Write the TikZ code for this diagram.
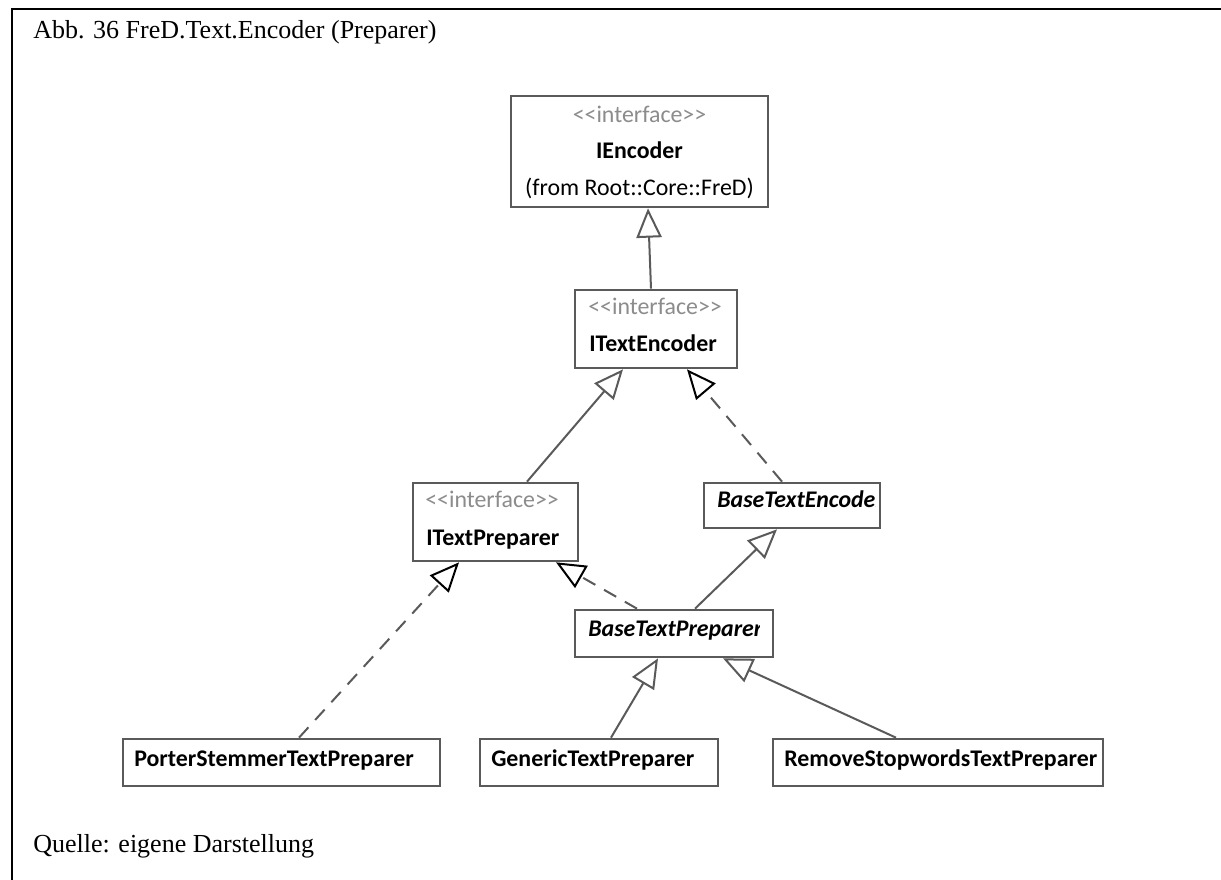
\documentclass[tikz,border=0pt]{standalone}
\usepackage{fontspec}
\setmainfont{Liberation Serif}
\newfontfamily\umlfont{Carlito}
\usetikzlibrary{arrows.meta,calc}

\definecolor{boxgray}{HTML}{5A5A5A}
\definecolor{stereogray}{HTML}{8C8C8C}

\begin{document}
\begin{tikzpicture}[x=0.75pt,y=-0.75pt,
  classbox/.style={draw=boxgray,line width=2pt,fill=white,inner sep=0pt,
    minimum height=35.25pt},
  umltext/.style={inner sep=0pt,font=\umlfont\fontsize{17.9}{21}\selectfont},
  stereo/.style={umltext,text=stereogray},
  cname/.style={umltext,font=\umlfont\bfseries\fontsize{17.9}{21}\selectfont},
  aname/.style={umltext,font=\umlfont\bfseries\itshape\fontsize{17.9}{21}\selectfont},
  plain/.style={umltext},
  caption/.style={inner sep=0pt,anchor=base west,font=\fontsize{19.5}{23}\selectfont},
  link/.style={draw=boxgray,line width=1.5pt},
  inherit/.style={link,-{Triangle[length=22pt,width=19pt,fill=white,color=boxgray,line width=1.5pt]}},
  realize/.style={link,dash pattern=on 10.5pt off 7.5pt,
    -{Triangle[length=22pt,width=19pt,fill=white,color=black,line width=1.5pt]}}
]
\useasboundingbox (0,0) rectangle (1221,880);

% frame of the figure cell
\draw[line width=1.5pt] (12,880) -- (12,9) -- (1221,9);
\node[caption] (title) at (33,39) {Abb. 36 FreD.Text.Encoder (Preparer)};
\node[caption] (source) at (33,852) {Quelle: eigene Darstellung};

% class boxes
\node[classbox,minimum width=192.75pt,minimum height=83.25pt] (enc) at (639.5,151.5) {};
\node[classbox,minimum width=121.5pt,minimum height=58.5pt] (tenc) at (656,329) {};
\node[classbox,minimum width=123.75pt,minimum height=58.5pt] (tprep) at (495.5,522) {};
\node[classbox,minimum width=132pt,minimum height=33.75pt] (benc) at (792,505.5) {};
\node[classbox,minimum width=148.5pt] (bprep) at (674,633.5) {};
\node[classbox,minimum width=237.75pt] (porter) at (281.5,762.5) {};
\node[classbox,minimum width=178.5pt] (generic) at (599,762.5) {};
\node[classbox,minimum width=247.5pt] (remove) at (938,762.5) {};

% box contents
\node[stereo,anchor=base] (encst) at (639.5,122.5) {<{}<interface>{}>};
\node[cname,anchor=base] (encnm) at (639.5,159) {IEncoder};
\node[plain,anchor=base] (encfr) at (639.5,196) {(from Root::Core::FreD)};

\node[stereo,anchor=base west] (tencst) at (588,315) {<{}<interface>{}>};
\node[cname,anchor=base west] (tencnm) at (589,351.5) {ITextEncoder};

\node[stereo,anchor=base west] (tprepst) at (425,508) {<{}<interface>{}>};
\node[cname,anchor=base west] (tprepnm) at (426,545) {ITextPreparer};

% abstract class names, cut off at the inner right margin
\begin{scope}
  \clip (benc.south west) rectangle ($(benc.north east)+(-6,0)$);
  \node[aname,anchor=base west] (bencnm) at (717,508) {BaseTextEncoder};
\end{scope}
\begin{scope}
  \clip (bprep.south west) rectangle ($(bprep.north east)+(-15,0)$);
  \node[aname,anchor=base west] (bprepnm) at (588,636.5) {BaseTextPreparer};
\end{scope}

\node[cname,anchor=base west] (porternm) at (134,766) {PorterStemmerTextPreparer};
\node[cname,anchor=base west] (genericnm) at (491,766) {GenericTextPreparer};
\node[cname,anchor=base west] (removenm) at (784,766) {RemoveStopwordsTextPreparer};

% generalizations
\draw[inherit] ($(tenc.north)+(-5,0)$) -- ($(enc.south)+(8.5,0)$);
\draw[inherit] ($(tprep.north)+(31.5,0)$) -- ($(tenc.south)+(-33,0)$);
\draw[inherit] ($(bprep.north)+(21,0)$) -- ($(benc.south)+(-15,0)$);
\draw[inherit] ($(generic.north)+(12,0)$) -- ($(bprep.south)+(-16,0)$);
\draw[inherit] ($(remove.north)+(-42,0)$) -- ($(bprep.south)+(49,0)$);

% realizations
\draw[realize] ($(benc.north)+(-10,0)$) -- ($(tenc.south)+(31,0)$);
\draw[realize] ($(bprep.north)+(-37,0)$) -- ($(tprep.south)+(60.5,0)$);
\draw[realize] ($(porter.north)+(17.5,0)$) -- ($(tprep.south)+(-36.5,0)$);
\end{tikzpicture}
\end{document}
